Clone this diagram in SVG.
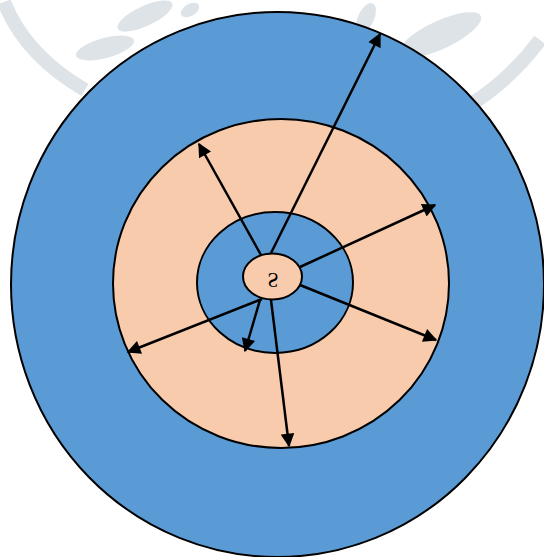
<svg xmlns="http://www.w3.org/2000/svg" width="544" height="557" viewBox="0 0 544 557">
<style>
.wm{fill:#dde3e7}
.wmb{fill:none;stroke:#dde3e7;stroke-width:14}
.ring{stroke:#000;stroke-width:2}
.blue{fill:#5b9bd5}
.peach{fill:#f8cbad}
.arr{stroke:#000;stroke-width:2.5;fill:none;marker-end:url(#ah)}
.lbl{font-family:"Liberation Serif","Times New Roman",serif;font-size:20px;fill:#000}
</style>
<defs>
<marker id="ah" viewBox="0 0 10 10" refX="9" refY="5" markerWidth="7" markerHeight="5.5" orient="auto" markerUnits="strokeWidth">
<path d="M0,0 L10,5 L0,10 Z" fill="#000"/>
</marker>
</defs>
<rect width="544" height="557" fill="#fff"/>
<g id="watermark">
<path class="wmb" d="M4,2 Q25,55 85,90"/>
<ellipse class="wm" cx="105" cy="48" rx="30" ry="10" transform="rotate(-15 105 48)"/>
<ellipse class="wm" cx="145" cy="16" rx="30" ry="10" transform="rotate(-25 145 16)"/>
<ellipse class="wm" cx="190" cy="10" rx="10" ry="6" transform="rotate(-30 190 10)"/>
<ellipse class="wm" cx="366" cy="18" rx="8" ry="16" transform="rotate(25 366 18)"/>
<ellipse class="wm" cx="440" cy="35" rx="45" ry="14" transform="rotate(-25 440 35)"/>
<path class="wmb" d="M540,40 Q510,80 470,105"/>
</g>
<g id="outer">
<ellipse class="ring blue" cx="277.5" cy="284.5" rx="266.5" ry="272.5"/>
</g>
<g id="middle">
<ellipse class="ring peach" cx="281" cy="283.5" rx="168" ry="164.5"/>
</g>
<g id="inner">
<ellipse class="ring blue" cx="275" cy="282.5" rx="78" ry="70.5"/>
</g>
<g id="connectors">
<line class="arr" x1="271" y1="253" x2="380" y2="34"/>
<line class="arr" x1="261" y1="255" x2="199" y2="144"/>
<line class="arr" x1="300" y1="267" x2="435" y2="205"/>
<line class="arr" x1="300" y1="285" x2="436" y2="340"/>
<line class="arr" x1="262" y1="299" x2="128" y2="352"/>
<line class="arr" x1="260" y1="300" x2="245" y2="351"/>
<line class="arr" x1="271" y1="300" x2="289" y2="446"/>
</g>
<g id="source">
<ellipse class="ring peach" cx="272.5" cy="276.5" rx="29.5" ry="23"/>
<text class="lbl" text-anchor="middle" transform="translate(273 280) scale(1 -1)" y="7">S</text>
</g>
</svg>
